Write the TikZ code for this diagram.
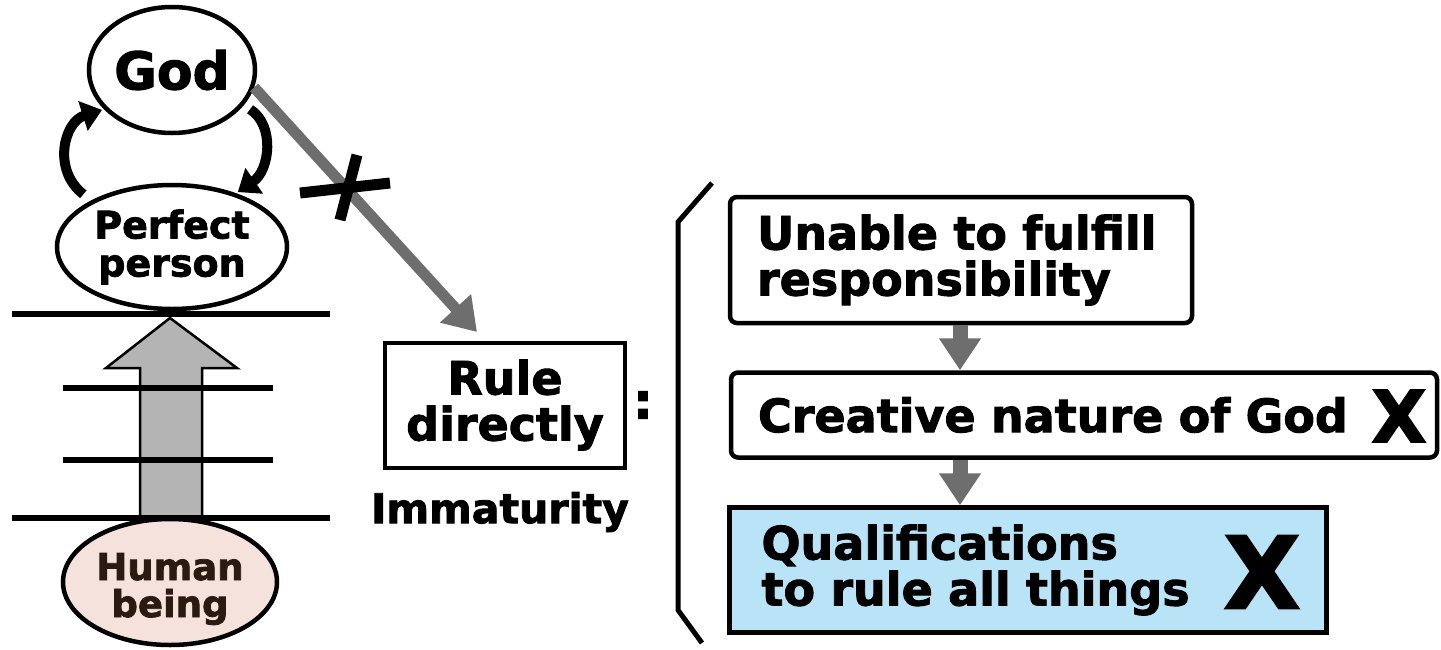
\documentclass[tikz,border=0pt]{standalone}
\usepackage{fontspec}
\setmainfont{DejaVu Sans}[BoldFeatures={FakeBold=2}]
\usetikzlibrary{shapes.geometric,arrows.meta}
\definecolor{arrgray}{HTML}{6E6E6E}
\definecolor{biggray}{HTML}{B4B4B4}
\definecolor{skyfill}{HTML}{B9E3F7}
\definecolor{pinkfill}{HTML}{F6E2DD}
\definecolor{hbtext}{HTML}{2B1A12}
\newcommand{\fs}[1]{\fontsize{#1}{#1}\selectfont\bfseries}
\begin{document}
\begin{tikzpicture}[x=1pt,y=-1pt,
  oval/.style={ellipse, draw, line width=4.5pt, inner sep=0pt, fill=white},
  levelline/.style={line width=5.5pt},
  curvearrow/.style={line width=10pt, -{Triangle[width=30pt,length=20pt]}},
  grayarrow/.style={draw=arrgray, line width=15pt, -{Triangle[width=40pt,length=32pt]}},
  diagarrow/.style={draw=arrgray, line width=11pt, -{Triangle[width=40pt,length=32pt]}},
  stepbox/.style={draw, line width=4.5pt, rounded corners=7pt, inner ysep=0pt, align=left, font=\fs{46}},
  crossstroke/.style={line width=11pt},
  txt/.style={inner sep=0pt, align=center}
]
\useasboundingbox (0,0) rectangle (1441,649);
\fill[white] (0,0) rectangle (1441,649);

% big upward arrow
\draw[line width=2.5pt, fill=biggray, line join=miter]
  (140,518) -- (140,368) -- (106,368) -- (170,318) -- (237,368) -- (202,368) -- (202,518) -- cycle;

% ovals
\node[oval, minimum width=166pt, minimum height=126pt, font=\fs{52}] (god) at (172,70) {God};
\node[oval, minimum width=230pt, minimum height=124pt, font=\fs{38}, align=center] (pp) at (172,247) {Perfect\\person};
\node[oval, fill=pinkfill, minimum width=214pt, minimum height=126pt] (hb) at (170,582) {};
\node[txt, font=\fs{37}, text=hbtext] (hbt) at (170,589) {Human\\being};

% level lines
\draw[levelline] (12,314) -- (330,314);
\draw[levelline] (63,388) -- (273,388);
\draw[levelline] (63,460) -- (273,460);
\draw[levelline] (12,518) -- (330,518);

% curved arrows between God and Perfect person
\draw[curvearrow, shorten <=10pt, shorten >=2pt] (pp.150) .. controls (52,170) and (64,122) .. (god.210);
\draw[curvearrow, shorten >=2pt] ([xshift=10pt]god.-30) .. controls (275,125) and (270,170) .. (pp.40);

% Rule directly
\node[draw, line width=4pt, minimum width=240pt, minimum height=125pt, txt, font=\fs{46}] (rule) at (505,405) {Rule\\directly};
\node[txt, font=\fs{41}] (immat) at (500,512) {Immaturity};
\node[txt, font=\fs{50}] (colon) at (643,405) {:};

% diagonal arrow with cross
\coordinate (diagtip) at (477,332);
\draw[diagarrow] (god.-12) -- (diagtip);
\draw[crossstroke] (300,193) -- (390,183);
\draw[crossstroke] (357,155) -- (340,220);

% bracket
\draw[line width=5pt, line join=miter] (712,183) -- (678,222) -- (678,610) -- (702,643);

% right boxes
\node[stepbox, minimum width=462pt, minimum height=126pt, text width=408pt, inner xsep=27pt] (b1) at (961,260)
  {\mbox{Unable to fulfill}\\\mbox{responsibility}};
\node[stepbox, minimum width=706pt, minimum height=85pt, text width=652pt, inner xsep=27pt] (b2) at (1084,415)
  {\mbox{Creative nature of God}};
\node[txt, font=\fs{72}] (x2) at (1399,416) {X};
\node[stepbox, rounded corners=0pt, fill=skyfill, minimum width=597pt, minimum height=125pt, text width=533pt, inner xsep=32pt] (b3) at (1028,570)
  {\mbox{Qualifications}\\\mbox{to rule all things}};
\node[txt, font=\fs{100}] (x3) at (1262,572) {X};

\draw[grayarrow] (b1.south -| 960,0) -- (b2.north -| 960,0);
\draw[grayarrow] (b2.south -| 960,0) -- (b3.north -| 960,0);
\end{tikzpicture}
\end{document}
